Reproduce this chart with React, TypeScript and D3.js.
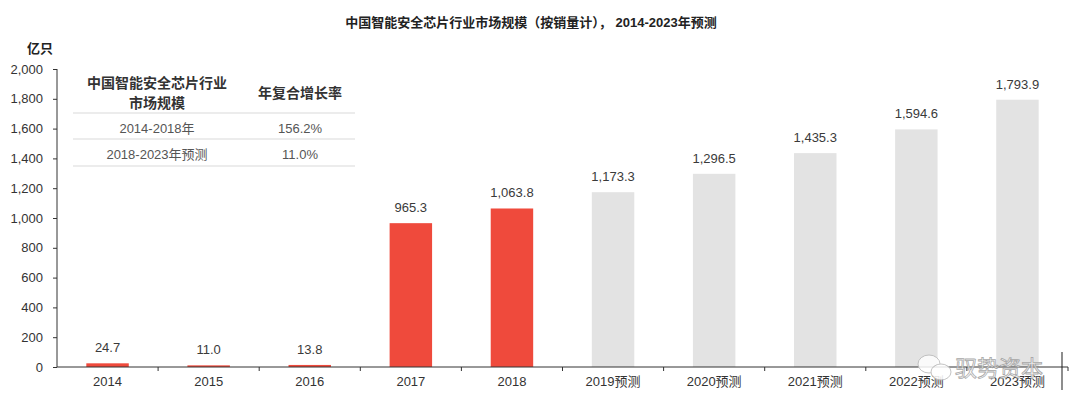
import React, { useEffect, useRef } from 'react';
import * as d3 from 'd3';

// 数据：中国智能安全芯片行业市场规模（亿只）
const years = ['2014', '2015', '2016', '2017', '2018', '2019预测', '2020预测', '2021预测', '2022预测', '2023预测'];
const values = [24.7, 11.0, 13.8, 965.3, 1063.8, 1173.3, 1296.5, 1435.3, 1594.6, 1793.9];
const forecast = [false, false, false, false, false, true, true, true, true, true];
const yTicks = [0, 200, 400, 600, 800, 1000, 1200, 1400, 1600, 1800, 2000];

const tableHeader = ['中国智能安全芯片行业\n市场规模', '年复合增长率'];
const tablePeriods = ['2014-2018年', '2018-2023年预测'];
const tableRates = ['156.2%', '11.0%'];

const FONT = '"Liberation Sans", "Noto Sans CJK SC", sans-serif';

const App: React.FC = () => {
  const ref = useRef<SVGSVGElement>(null);

  useEffect(() => {
    const svg = d3.select(ref.current);
    svg.selectAll('*').remove();

    const left = 57;
    const right = 1068;
    const top = 69;
    const bottom = 367;

    const x = d3.scaleBand().domain(years).range([left, right]).padding(0);
    const y = d3.scaleLinear().domain([0, 2000]).range([bottom, top]);
    const barW = x.bandwidth() * 0.42;

    // 标题
    svg.append('text')
      .attr('x', 531).attr('y', 27)
      .attr('text-anchor', 'middle')
      .attr('font-size', 13).attr('font-weight', 'bold')
      .attr('fill', '#222').attr('font-family', FONT)
      .text('中国智能安全芯片行业市场规模（按销量计）， 2014-2023年预测');

    svg.append('text')
      .attr('x', 40).attr('y', 53)
      .attr('text-anchor', 'middle')
      .attr('font-size', 13).attr('font-weight', 'bold')
      .attr('fill', '#222').attr('font-family', FONT)
      .text('亿只');

    // 柱子
    svg.selectAll('.bar')
      .data(values)
      .enter()
      .append('rect')
      .attr('x', (d, i) => x(years[i])! + (x.bandwidth() - barW) / 2)
      .attr('y', d => y(d))
      .attr('width', barW)
      .attr('height', d => bottom - y(d))
      .attr('fill', (d, i) => (forecast[i] ? '#e3e3e3' : '#ef4a3c'));

    // 数值标签
    svg.selectAll('.label')
      .data(values)
      .enter()
      .append('text')
      .attr('x', (d, i) => x(years[i])! + x.bandwidth() / 2)
      .attr('y', d => y(d) - 11)
      .attr('text-anchor', 'middle')
      .attr('font-size', 13)
      .attr('fill', '#3a3a3a')
      .attr('font-family', FONT)
      .text(d => d3.format(',.1f')(d));

    // Y轴
    const yAxis = svg.append('g')
      .attr('transform', `translate(${left},0)`)
      .call(d3.axisLeft(y).tickValues(yTicks).tickFormat(d3.format(',')).tickSize(4).tickPadding(10));
    yAxis.select('.domain').attr('stroke', '#333').attr('d', `M0,${top}V${bottom}`);
    yAxis.selectAll('line').attr('stroke', '#333');
    yAxis.selectAll('text').attr('font-size', 13).attr('fill', '#333').attr('font-family', FONT);

    // X轴
    const xAxis = svg.append('g')
      .attr('transform', `translate(0,${bottom})`)
      .call(d3.axisBottom(x).tickSize(0).tickPadding(10));
    xAxis.select('.domain').attr('stroke', '#333').attr('d', `M${left},0H${right}`);
    xAxis.selectAll('text').attr('font-size', 13).attr('fill', '#333').attr('font-family', FONT);
    xAxis.selectAll('.sep')
      .data(years)
      .enter()
      .append('line')
      .attr('x1', d => x(d)! + x.bandwidth())
      .attr('x2', d => x(d)! + x.bandwidth())
      .attr('y1', 0).attr('y2', 4)
      .attr('stroke', '#333');

    // 表格
    const tbl = svg.append('g').attr('font-family', FONT);
    const col1 = 157;
    const col2 = 300;
    const h1 = tableHeader[0].split('\n');
    h1.forEach((t, i) => {
      tbl.append('text')
        .attr('x', col1).attr('y', 88 + i * 20)
        .attr('text-anchor', 'middle')
        .attr('font-size', 14).attr('fill', '#333').attr('font-weight', 'bold')
        .text(t);
    });
    tbl.append('text')
      .attr('x', col2).attr('y', 98)
      .attr('text-anchor', 'middle')
      .attr('font-size', 14).attr('fill', '#333').attr('font-weight', 'bold')
      .text(tableHeader[1]);
    [113, 139, 166].forEach(ly => {
      tbl.append('line')
        .attr('x1', 73).attr('x2', 355)
        .attr('y1', ly).attr('y2', ly)
        .attr('stroke', '#e6e6e6').attr('stroke-width', 1.5);
    });
    tablePeriods.forEach((p, i) => {
      tbl.append('text')
        .attr('x', col1).attr('y', 133 + i * 26)
        .attr('text-anchor', 'middle')
        .attr('font-size', 13).attr('fill', '#555')
        .text(p);
      tbl.append('text')
        .attr('x', col2).attr('y', 133 + i * 26)
        .attr('text-anchor', 'middle')
        .attr('font-size', 13).attr('fill', '#555')
        .text(tableRates[i]);
    });

    // 水印
    const wm = svg.append('g').attr('opacity', 0.85);
    wm.append('ellipse').attr('cx', 929).attr('cy', 364).attr('rx', 11).attr('ry', 9)
      .attr('fill', 'white').attr('stroke', '#bbb');
    wm.append('ellipse').attr('cx', 941).attr('cy', 372).attr('rx', 10).attr('ry', 8)
      .attr('fill', 'white').attr('stroke', '#bbb');
    wm.append('text')
      .attr('x', 955).attr('y', 376)
      .attr('font-size', 22).attr('fill', 'white').attr('stroke', '#999').attr('stroke-width', 0.8)
      .attr('font-family', FONT)
      .text('驭势资本');
    wm.append('line').attr('x1', 1062).attr('x2', 1062).attr('y1', 352).attr('y2', 390)
      .attr('stroke', '#222').attr('stroke-width', 1.2);
  }, []);

  return <svg ref={ref} width={1080} height={396} style={{ display: 'block', position: 'absolute', left: 0, top: 0, background: 'white' }} />;
};

export default App;
